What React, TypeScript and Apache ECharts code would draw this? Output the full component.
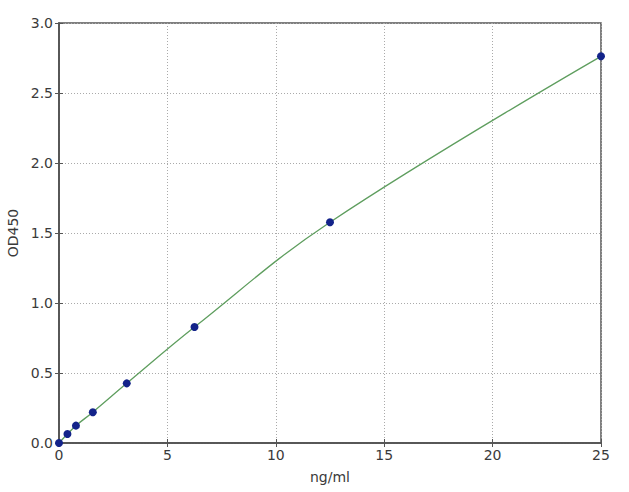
import React, { useEffect, useRef } from "react";
import * as echarts from "echarts";

const concentrations = [0, 0.39, 0.78, 1.56, 3.125, 6.25, 12.5, 25];
const odValues = [0.0, 0.064, 0.124, 0.22, 0.426, 0.828, 1.577, 2.762];
const xTicks = [0, 5, 10, 15, 20, 25];
const yTicks = [0, 0.5, 1.0, 1.5, 2.0, 2.5, 3.0];

export default function App() {
  const ref = useRef<HTMLDivElement>(null);
  useEffect(() => {
    if (!ref.current) return;
    const chart = echarts.init(ref.current, null, { renderer: "svg" });
    const pts = concentrations.map((c, i) => [c, odValues[i]]);
    const font = "DejaVu Sans";
    const textColor = "#3a3a3a";
    const axisLine = { show: true, lineStyle: { color: "#555", width: 1.5 } };
    const axisTick = { show: true, inside: true, length: 4, lineStyle: { color: "#555" } };
    const grid = { show: true, lineStyle: { color: "#aaa", type: [1, 2] as any, width: 1 } };
    chart.setOption({
      animation: false,
      backgroundColor: "#fff",
      grid: {
        left: 59,
        top: 23,
        right: 28,
        bottom: 49,
        containLabel: false,
        outerBoundsMode: "none",
        show: true,
        borderColor: "#555",
        borderWidth: 1.5,
        backgroundColor: "transparent",
      },
      xAxis: [
        {
          type: "value",
          min: xTicks[0],
          max: xTicks[xTicks.length - 1],
          interval: 5,
          name: "ng/ml",
          nameLocation: "middle",
          nameGap: 27,
          nameTextStyle: { fontFamily: font, fontSize: 14, color: textColor },
          axisLine,
          axisTick,
          splitLine: grid,
          axisLabel: { fontFamily: font, fontSize: 14, color: textColor, margin: 5 },
        },
        {
          type: "value",
          position: "top",
          min: xTicks[0],
          max: xTicks[xTicks.length - 1],
          interval: 5,
          axisLine,
          axisTick,
          splitLine: { show: false },
          axisLabel: { show: false },
        },
      ],
      yAxis: [
        {
          type: "value",
          min: yTicks[0],
          max: yTicks[yTicks.length - 1],
          interval: 0.5,
          name: "OD450",
          nameLocation: "middle",
          nameGap: 33,
          nameTextStyle: { fontFamily: font, fontSize: 14, color: textColor },
          axisLine,
          axisTick,
          splitLine: grid,
          axisLabel: {
            fontFamily: font,
            fontSize: 14,
            color: textColor,
            margin: 6,
            formatter: (v: number) => v.toFixed(1),
          },
        },
        {
          type: "value",
          position: "right",
          min: yTicks[0],
          max: yTicks[yTicks.length - 1],
          interval: 0.5,
          axisLine,
          axisTick,
          splitLine: { show: false },
          axisLabel: { show: false },
        },
      ],
      series: [
        {
          type: "line",
          data: pts,
          smooth: 0.4,
          showSymbol: false,
          lineStyle: { color: "#5f9e5f", width: 1.3 },
          z: 2,
        },
        {
          type: "scatter",
          data: pts,
          symbol: "circle",
          symbolSize: 8,
          itemStyle: { color: "#13238a", opacity: 1 },
          z: 3,
        },
      ],
    });
    return () => chart.dispose();
  }, []);
  return (
    <div
      ref={ref}
      style={{ position: "fixed", left: 0, top: 0, width: 629, height: 492, background: "#fff" }}
    />
  );
}
